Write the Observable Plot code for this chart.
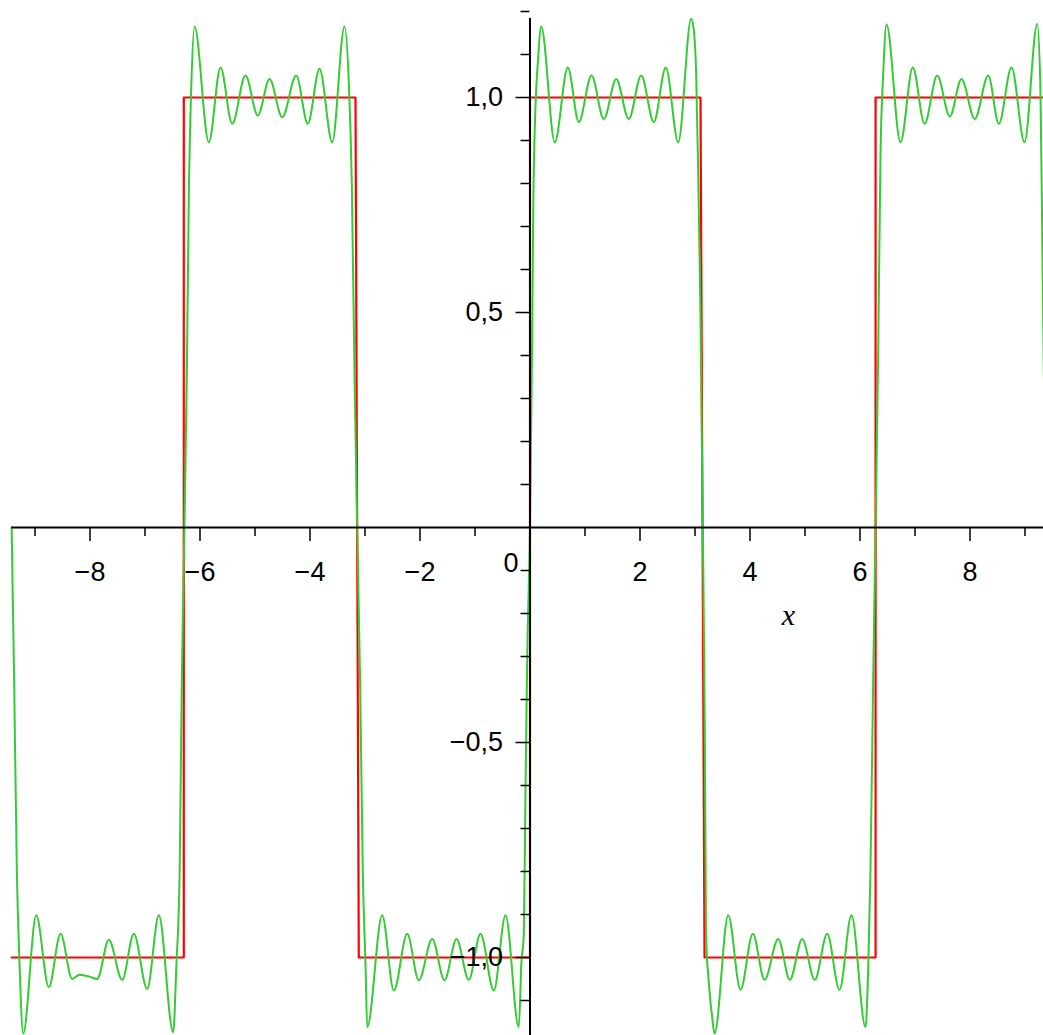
<!DOCTYPE html>
<html><head><meta charset="utf-8">
<script src="https://cdn.jsdelivr.net/npm/d3@7"></script>
<script src="https://cdn.jsdelivr.net/npm/@observablehq/plot@0.6"></script>
<style>
body{margin:0;background:#fff;}
#chart svg{overflow:hidden;display:block;background:#fff;}
</style>
</head><body><div id="chart"></div>
<script>
// Green curve (Fourier partial sum) vertices
const greenX = [
  -9.425,-9.38,-9.33,-9.28,
  -9.215,-8.978,-8.749,-8.536,-8.324,-8.19,-8.0,-7.869,-7.658,-7.415,-7.204,-6.960,-6.749,-6.487,
  -6.43,-6.37,-6.33,-6.283,-6.24,-6.2,-6.16,
  -6.100,-5.840,-5.627,-5.415,-5.173,-4.949,-4.736,-4.505,-4.251,-4.040,-3.827,-3.596,-3.373,
  -3.29,-3.24,-3.19,-3.142,-3.09,-3.04,-2.99,
  -2.960,-2.687,-2.476,-2.233,-2.022,-1.778,-1.555,-1.336,-1.113,-0.900,-0.658,-0.445,-0.204,
  -0.155,-0.113,-0.082,-0.051,0,0.04,0.06,0.1,0.142,
  0.204,0.451,0.687,0.887,1.118,1.342,1.567,1.796,2.022,2.251,2.469,2.695,2.931,
  2.978,3.022,3.058,3.1,3.142,3.18,3.2,3.25,3.313,
  3.355,3.604,3.827,4.051,4.264,4.513,4.724,4.949,5.178,5.404,5.627,5.845,6.100,
  6.15,6.19,6.24,6.283,6.33,6.373,6.42,
  6.482,6.736,6.960,7.173,7.404,7.633,7.845,8.087,8.331,8.524,8.755,8.991,9.222,
  9.28,9.31,9.34,9.425
];
const greenY = [
  0,-0.35,-0.8,-1.02,
  -1.177,-0.902,-1.069,-0.945,-1.050,-1.040,-1.045,-1.050,-0.959,-1.052,-0.945,-1.073,-0.902,-1.174,
  -1.02,-0.8,-0.35,0,0.35,0.8,1.02,
  1.165,0.896,1.070,0.939,1.051,0.958,1.043,0.954,1.051,0.939,1.067,0.896,1.165,
  1.02,0.8,0.35,0,-0.35,-0.8,-1.02,
  -1.162,-0.902,-1.077,-0.945,-1.053,-0.957,-1.053,-0.957,-1.052,-0.945,-1.077,-0.902,-1.162,
  -1.009,-0.948,-0.612,-0.305,0,0.45,0.75,0.98,1.08,
  1.165,0.896,1.070,0.943,1.051,0.950,1.043,0.950,1.051,0.943,1.070,0.896,1.183,
  1.157,1.05,0.828,0.49,0,-0.5,-0.948,-1.056,-1.14,
  -1.177,-0.902,-1.075,-0.945,-1.052,-0.957,-1.052,-0.957,-1.052,-0.945,-1.075,-0.902,-1.162,
  -1.02,-0.8,-0.35,0,0.4,0.87,1.05,
  1.170,0.896,1.070,0.939,1.051,0.956,1.043,0.950,1.051,0.939,1.070,0.896,1.171,
  1.02,0.72,0.38,0
];
// Red square wave corners
const redX = [-9.425,-6.295,-6.295,-3.173,-3.113,0,0,3.1,3.173,6.283,6.283,9.425];
const redY = [-1,-1,1,1,-1,-1,1,1,-1,-1,1,1];

// Axis ticks and labels
const xTicks = [-9,-8,-7,-6,-5,-4,-3,-2,-1,1,2,3,4,5,6,7,8,9];
const xLabelValues = [-8,-6,-4,-2,2,4,6,8];
const xLabels = ["−8","−6","−4","−2","2","4","6","8"];
const yTicks = [-1.1,-1.0,-0.9,-0.8,-0.7,-0.6,-0.5,-0.4,-0.3,-0.2,-0.1,0.1,0.2,0.3,0.4,0.5,0.6,0.7,0.8,0.9,1.0,1.1,1.2];
const yLabelValues = [-1.0,-0.5,0.5,1.0];
const yLabels = ["−1,0","−0,5","0,5","1,0"];

const green = greenX.map((x,i)=>({x, y: greenY[i]}));
const red = redX.map((x,i)=>({x, y: redY[i]}));
const xlab = xLabelValues.map((v,i)=>({v, t: xLabels[i]}));
const ylab = yLabelValues.map((v,i)=>({v, t: yLabels[i]}));

const W = 1043, H = 1035;
const px = 55, py = 430, x0 = 529.5, y0 = 527;
const XMIN = -9.425, XMAX = 9.425;
const isLongX = d => d % 2 === 0;
const isLongY = d => Math.abs(Math.abs(d) - 0.5) < 1e-9 || Math.abs(Math.abs(d) - 1) < 1e-9;

const font = "Liberation Sans, Arial, sans-serif";

const chart = Plot.plot({
  width: W, height: H,
  margin: 0,
  x: {domain: [XMIN, XMAX], range: [x0 + XMIN*px, x0 + XMAX*px], axis: null},
  y: {domain: [-1.2, 1.2], range: [y0 + 1.2*py, y0 - 1.2*py], axis: null},
  style: {background: "#fff"},
  marks: [
    Plot.line(red, {x: "x", y: "y", stroke: "#ff0000", strokeWidth: 2.2}),
    Plot.line(green, {x: "x", y: "y", stroke: "#33cc33", strokeWidth: 2, curve: "monotone-x"}),
    // axes
    Plot.ruleY([0], {x1: XMIN, x2: XMAX, stroke: "black", strokeWidth: 2}),
    Plot.ruleX([0], {y1: -1.2, y2: 1.184, stroke: "black", strokeWidth: 2}),
    Plot.ruleX(xTicks, {x: d => d, y1: 0, y2: d => -(isLongX(d) ? 14 : 9)/py, stroke: "black", strokeWidth: 1.5}),
    Plot.ruleY(yTicks, {y: d => d, x1: 0, x2: d => -(isLongY(d) ? 14 : 9)/px, stroke: "black", strokeWidth: 1.5}),
    Plot.text(xlab, {x: "v", y: 0, text: "t", dy: 45, fontSize: 27, fontFamily: font, fill: "black", textAnchor: "middle"}),
    Plot.text(ylab, {x: 0, y: "v", text: "t", dx: -27, fontSize: 27, fontFamily: font, fill: "black", textAnchor: "end"}),
    Plot.text(["0"], {x: 0, y: 0, text: d => d, dx: -19, dy: 36, fontSize: 27, fontFamily: font, fill: "black", textAnchor: "middle"}),
    Plot.text(["x"], {x: 4.7, y: 0, text: d => d, dy: 88, fontSize: 30, fontFamily: "Liberation Serif, Times New Roman, serif", fontStyle: "italic", fill: "black", textAnchor: "middle"})
  ]
});
document.getElementById("chart").appendChild(chart);
</script>
</body></html>
